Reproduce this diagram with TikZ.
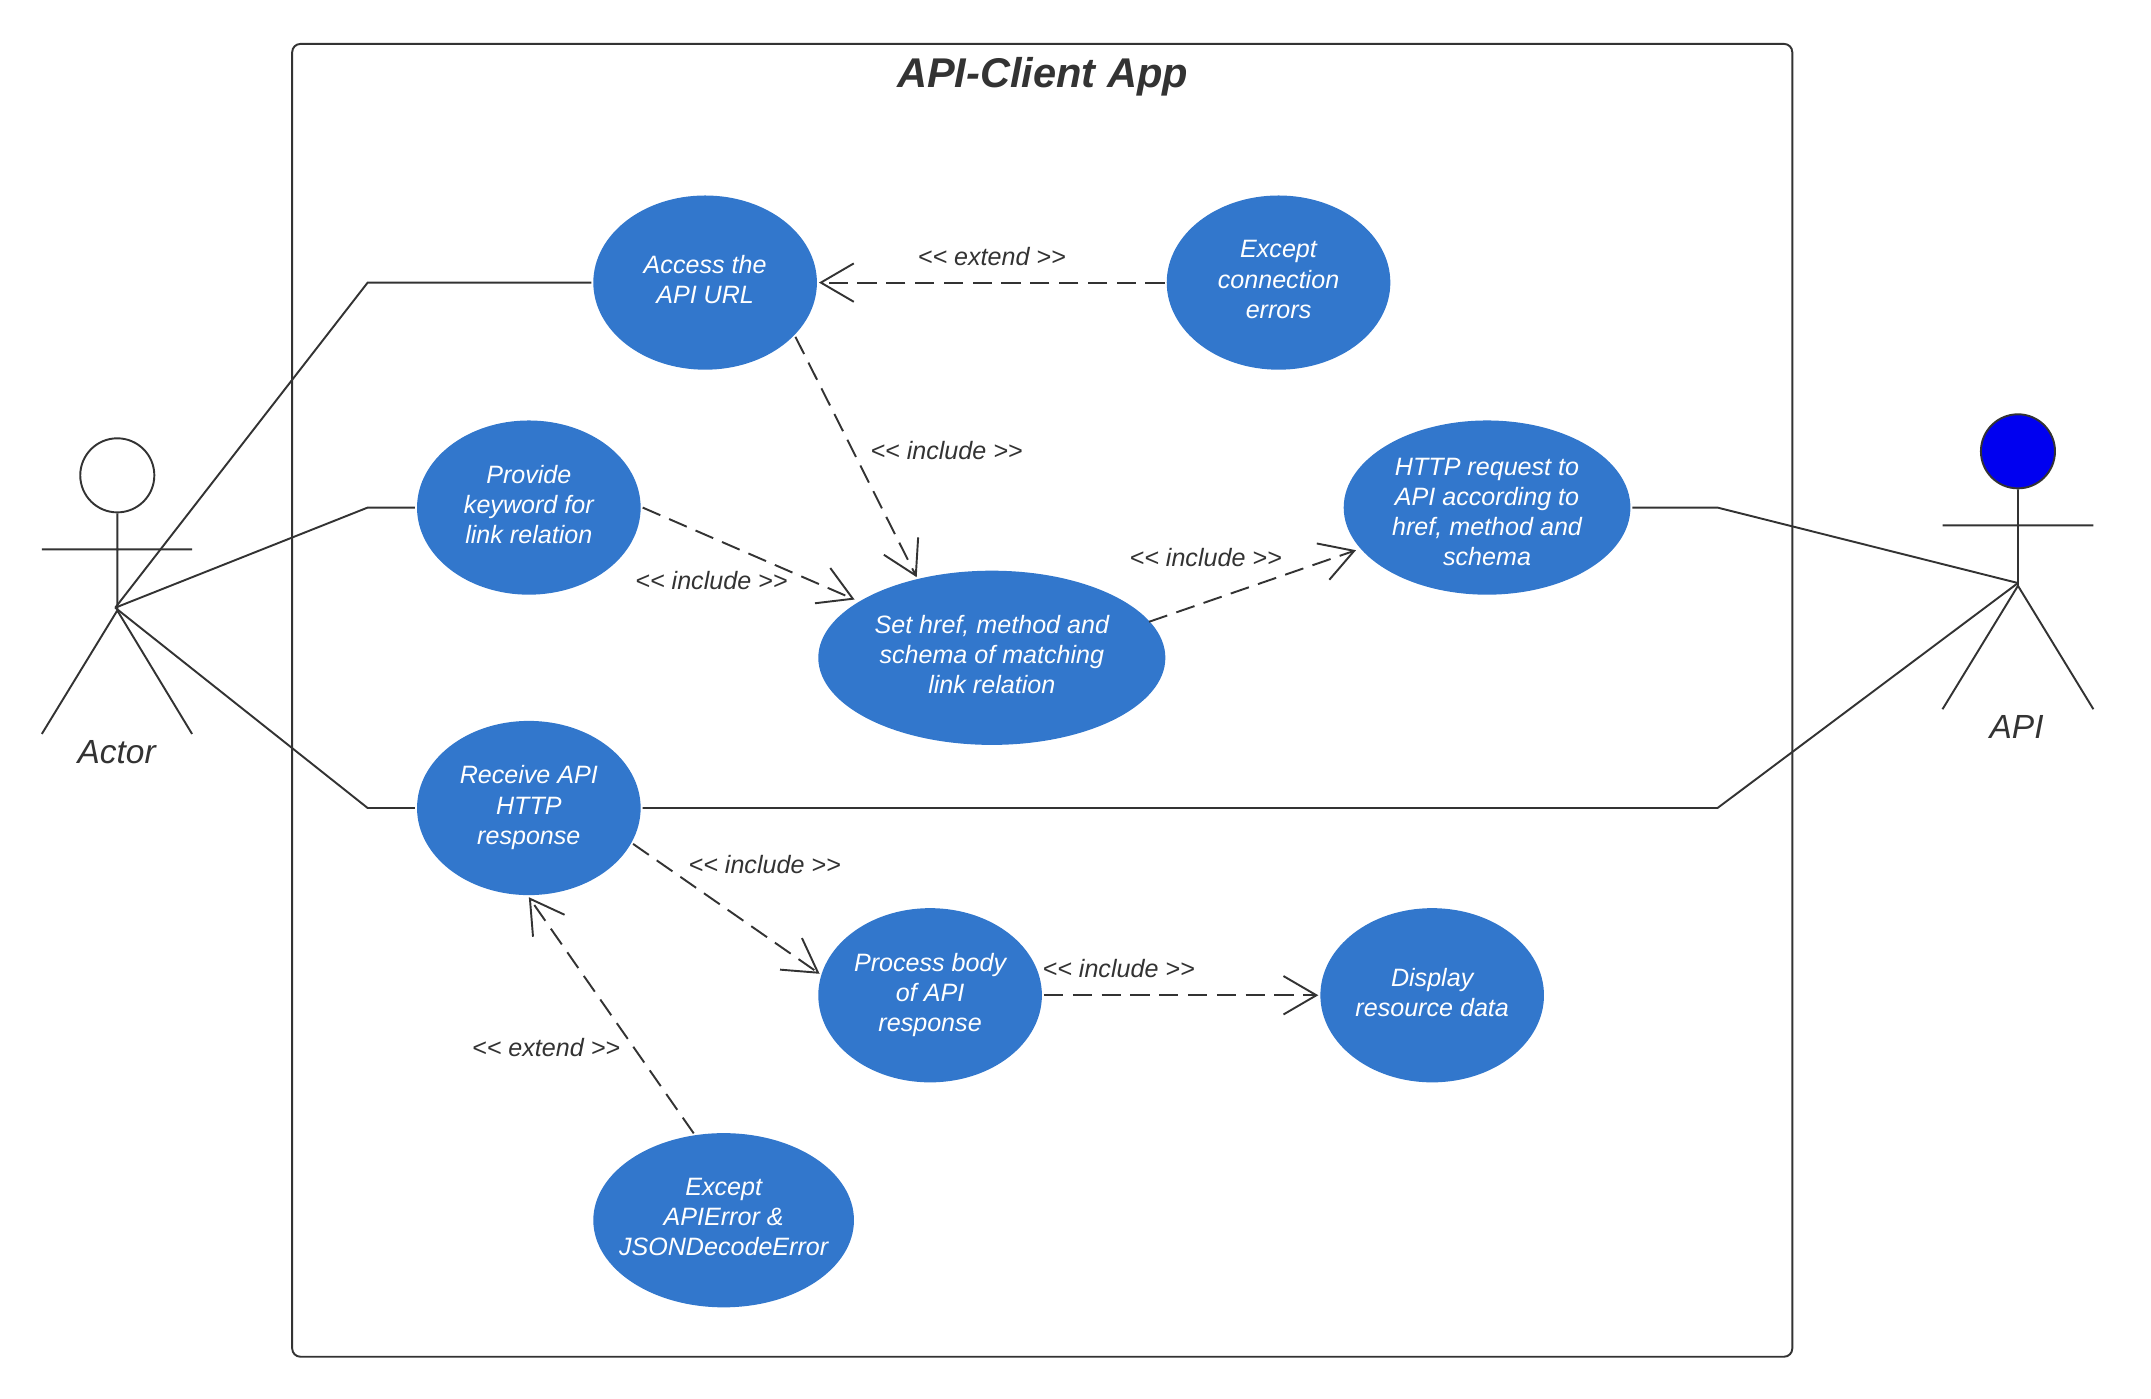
\documentclass[tikz,border=0pt]{standalone}
\usepackage{fontspec}
\newfontfamily\umlfont{Liberation Sans}
\usepackage{tikz}
\usetikzlibrary{arrows.meta,shapes.geometric}

\definecolor{usecaseblue}{HTML}{3277CC}
\definecolor{inkgrey}{HTML}{333333}
\definecolor{apiblue}{HTML}{0000F0}

\tikzset{
  usecase/.style={ellipse,fill=usecaseblue,text=white,align=center,inner sep=0pt,
                  minimum width=163,minimum height=127,outer sep=1.5pt,text depth=4.5pt,
                  font=\umlfont\itshape\fontsize{18.3}{22}\selectfont},
  relation/.style={->,dash pattern=on 14pt off 7pt},
  rellabel/.style={text=inkgrey,font=\umlfont\itshape\fontsize{18.3}{22}\selectfont},
  actorname/.style={text=inkgrey,font=\umlfont\itshape\fontsize{24.4}{28}\selectfont},
  head/.style={circle,draw=inkgrey,minimum size=54,inner sep=0pt}
}

\begin{document}
\begin{tikzpicture}[x=1pt,y=-1pt,>={Straight Barb[length=24pt,width=28pt]},
                    draw=inkgrey,line width=1.4pt]
  \useasboundingbox (0,0) rectangle (1568,1019.8);

  \draw[rounded corners=6pt] (213,32) rectangle (1306.5,989);
  \node[text=inkgrey,font=\umlfont\bfseries\itshape\fontsize{30.3}{36}\selectfont]
        (title) at (760,56) {API-Client App};

  \node[usecase]                  (access)  at (514,206)    {Access the\\API URL};
  \node[usecase]                  (except)  at (932,206)    {Except\\connection\\errors};
  \node[usecase]                  (keyword) at (385.5,370)  {Provide\\keyword for\\link relation};
  \node[usecase,minimum width=209,text height=85pt,text depth=0pt]
                                  (request) at (1084,370)   {HTTP request to\\API according to\\href, method and\\schema};
  \node[usecase,minimum width=253] (setlink) at (723,479.5) {Set href, method and\\schema of matching\\link relation};
  \node[usecase]                  (receive) at (385.5,589)  {Receive API\\HTTP\\response};
  \node[usecase]                  (process) at (678,725.5)  {Process body\\of API\\response};
  \node[usecase]                  (display) at (1044,725.5) {Display\\resource data};
  \node[usecase,minimum width=190,inner xsep=-12pt] (apierr) at (527.5,889.5) {Except\\APIError \&\\JSONDecodeError};

  % the two stick figures
  \node[head]                     (actorhead) at (85.5,346.5) {};
  \coordinate                     (actorhip)  at (85.5,445);
  \coordinate                     (actorhub)  at (84,443);
  \node[actorname]                (actorname) at (85,548)     {Actor};
  \draw (actorhead) -- (actorhip)
        (30.5,400.5) -- (140,400.5)
        (30.5,535) -- (actorhip) -- (140,535);

  \node[head,fill=apiblue]        (apihead)   at (1471,329)   {};
  \coordinate                     (apihip)    at (1471,427);
  \coordinate                     (apihub)    at (1471,425);
  \node[actorname]                (apiname)   at (1470,530)   {API};
  \draw (apihead) -- (apihip)
        (1416,383) -- (1526,383)
        (1416,517) -- (apihip) -- (1526,517);

  % associations
  \draw (actorhub) -- (268,206) -- (access.west);
  \draw (actorhub) -- (268,370) -- (keyword.west);
  \draw (actorhub) -- (268,589) -- (receive.west);
  \draw (apihub) -- (1252,370) -- (request.east);
  \draw (apihub) -- (1252,589) -- (receive.east);

  % dependencies
  \path (except.west) edge[relation] node[rellabel,shift={(0,-19)}]      {<< extend >>}  (access.east)
        (access.-31.5) edge[relation] node[rellabel,shift={(66,-5)}]     {<< include >>} (setlink.133.5)
        (keyword.east) edge[relation,shorten >=2pt] node[rellabel,shift={(-28,19)}] {<< include >>} (setlink.157.5)
        (setlink.13.9) edge[relation,shorten <=-2pt,shorten >=2pt] node[rellabel,shift={(-36,-20)}] {<< include >>} (request.-162.6)
        (receive.-19) edge[relation] node[rellabel,shift={(28,-32.5)}]   {<< include >>} (process.169.9)
        (process.east) edge[relation] node[rellabel,shift={(-45.5,-19.5)}] {<< include >>} (display.west)
        (apierr.109.5) edge[relation] node[rellabel,shift={(-47.5,23.5)}] {<< extend >>} (receive.-90);
\end{tikzpicture}
\end{document}
